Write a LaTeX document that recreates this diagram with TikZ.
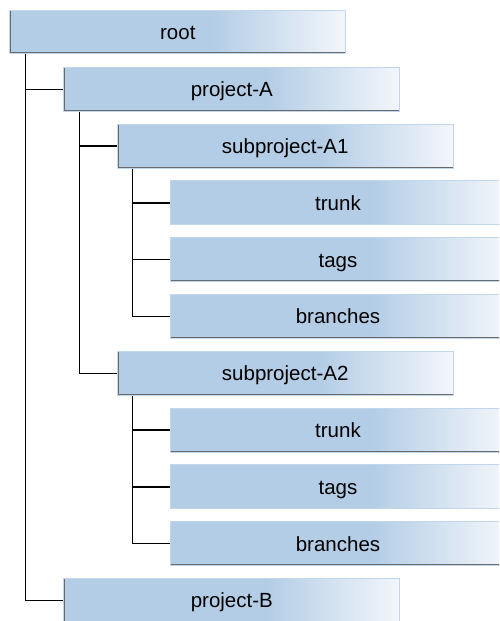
\documentclass[tikz,border=0pt]{standalone}
\usepackage{fontspec}
\setmainfont{Liberation Sans}

\definecolor{boxblue}{HTML}{B3CDE6}
\definecolor{boxlight}{HTML}{F3F6FB}
\definecolor{boxrim}{HTML}{C2D6EC}
\definecolor{boxshadow}{HTML}{6A6A6A}
\pgfdeclarehorizontalshading{foldershade}{100bp}{color(0bp)=(boxblue); color(55bp)=(boxblue); color(75bp)=(boxlight); color(100bp)=(boxlight)}

\tikzset{
  folder/.style={rectangle, anchor=north west, minimum width=336pt, minimum height=44pt,
    inner sep=0pt, text height=18.6pt, text depth=4pt, shading=foldershade,
    draw=boxrim, line width=1pt, font=\fontsize{20.5}{24}\selectfont,
    path picture={\draw[boxshadow, line width=2.6pt]
      (path picture bounding box.north west) -- (path picture bounding box.south west)
      -- (path picture bounding box.south east);}},
  branch/.style={black, line width=1.3pt},
}

\begin{document}
\begin{tikzpicture}[x=1pt, y=-1pt]
    \useasboundingbox (0, 0) rectangle (499, 621);
    \clip (0, 0) rectangle (499, 621);

    % Cartelle
    \node[folder, minimum height=43pt] (root) at (9.3, 10) {root};
    \node[folder] (projA) at (63.3, 66.8) {project-A};
    \node[folder] (subA1) at (116.7, 123.6) {subproject-A1};
    \node[folder] (trunkA1) at (169.5, 180.4) {trunk};
    \node[folder] (tagsA1) at (169.5, 237.2) {tags};
    \node[folder] (branchesA1) at (169.5, 294) {branches};
    \node[folder] (subA2) at (116.7, 350.8) {subproject-A2};
    \node[folder] (trunkA2) at (169.5, 407.6) {trunk};
    \node[folder] (tagsA2) at (169.5, 464.4) {tags};
    \node[folder] (branchesA2) at (169.5, 521.2) {branches};
    \node[folder] (projB) at (63.3, 578) {project-B};

    % Collegamenti root
    \draw[branch] ([xshift=16pt]root.south west) |- (projA.west);
    \draw[branch] ([xshift=16pt]root.south west) |- (projB.west);

    % Collegamenti project-A
    \draw[branch] ([xshift=16pt]projA.south west) |- (subA1.west);
    \draw[branch] ([xshift=16pt]projA.south west) |- (subA2.west);

    % Collegamenti subproject-A1
    \draw[branch] ([xshift=16pt]subA1.south west) |- (trunkA1.west);
    \draw[branch] ([xshift=16pt]subA1.south west) |- (tagsA1.west);
    \draw[branch] ([xshift=16pt]subA1.south west) |- (branchesA1.west);

    % Collegamenti subproject-A2
    \draw[branch] ([xshift=16pt]subA2.south west) |- (trunkA2.west);
    \draw[branch] ([xshift=16pt]subA2.south west) |- (tagsA2.west);
    \draw[branch] ([xshift=16pt]subA2.south west) |- (branchesA2.west);

\end{tikzpicture}
\end{document}
